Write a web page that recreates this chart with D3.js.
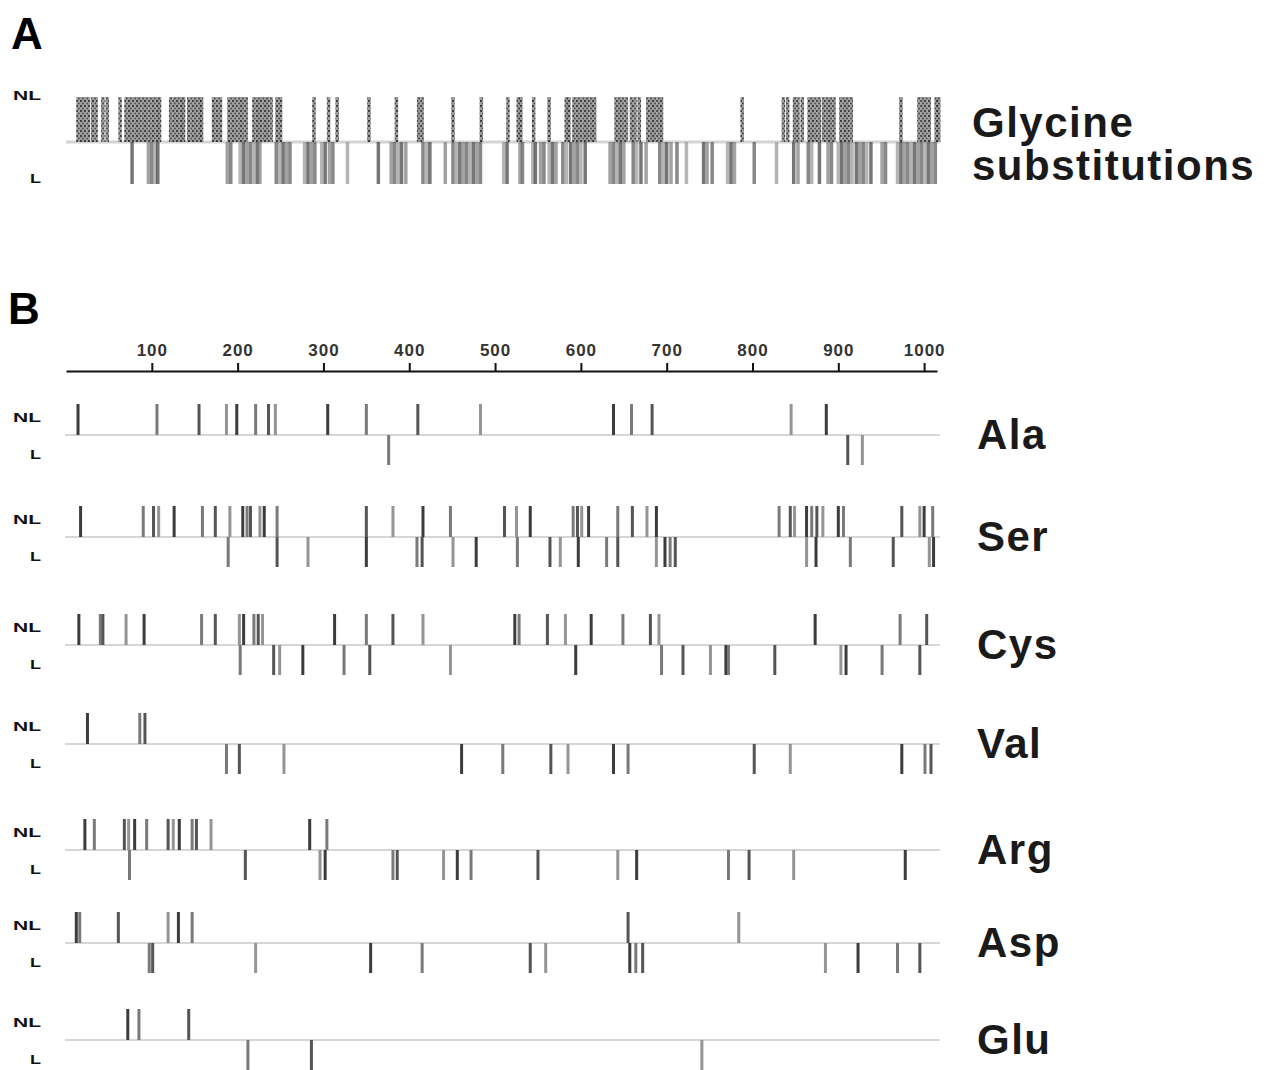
<!DOCTYPE html>
<html>
<head>
<meta charset="utf-8">
<script src="https://cdn.jsdelivr.net/npm/d3@7"></script>
<style>
  body { margin: 0; background: #fff; }
  text { font-family: "Liberation Sans", Arial, sans-serif; }
</style>
</head>
<body>
<div id="chart"></div>
<script>
// residue positions of substitutions along the triple helix
var ticks = [100, 200, 300, 400, 500, 600, 700, 800, 900, 1000]

var glyNL = [14, 18, 22, 26, 31, 35, 43, 48, 63, 70, 74, 78, 82, 86, 90, 94, 98, 102, 106, 109,
  122, 126, 130, 134, 137, 143, 147, 151, 155, 158, 172, 176, 180, 190, 194, 198, 202, 206, 210,
  219, 223, 227, 231, 235, 239, 246, 250, 289, 306, 316, 353, 385, 411, 415, 451, 484, 515, 527,
  530, 545, 563, 583, 586, 592, 596, 600, 604, 608, 612, 616, 641, 645, 649, 653, 659, 663, 668,
  678, 682, 686, 690, 694, 788, 836, 841, 849, 853, 858, 866, 870, 874, 878, 883, 887, 891, 895,
  903, 907, 911, 915, 973, 994, 998, 1002, 1006, 1014, 1017]
var glyL = [77, 96, 100, 104, 107, 188, 192, 203, 207, 211, 215, 219, 223, 226, 245, 249, 253, 257,
  261, 278, 282, 286, 290, 298, 302, 307, 311, 328, 364, 379, 383, 387, 391, 396, 416, 420, 424,
  442, 451, 455, 459, 463, 467, 471, 475, 479, 483, 510, 514, 529, 532, 544, 547, 553, 557, 563,
  567, 571, 579, 583, 588, 592, 596, 600, 605, 634, 638, 642, 646, 650, 661, 665, 670, 676, 692,
  696, 700, 705, 712, 723, 743, 747, 753, 771, 775, 779, 802, 828, 848, 853, 865, 869, 878, 888,
  892, 900, 904, 908, 912, 916, 921, 925, 929, 933, 938, 951, 955, 969, 973, 977, 981, 985, 989,
  993, 997, 1001, 1005, 1009, 1013]

var aminoAcids = ['Ala', 'Ser', 'Cys', 'Val', 'Arg', 'Asp', 'Glu']

var alaNL = [14, 106, 155, 187, 199, 221, 236, 244, 305, 350, 410, 483, 638, 659, 683, 845, 886]
var alaL = [376, 911, 928]

var serNL = [17, 90, 102, 108, 126, 159, 174, 191, 206, 211, 215, 226, 231, 246, 350, 381, 416, 448,
  511, 525, 541, 591, 596, 601, 609, 643, 660, 677, 688, 831, 844, 849, 863, 869, 875, 882, 900,
  906, 974, 995, 1000, 1010]
var serL = [189, 246, 282, 350, 409, 415, 451, 478, 526, 564, 576, 597, 630, 643, 688, 698, 704, 710,
  863, 874, 914, 964, 1006, 1011]

var cysNL = [15, 40, 43, 70, 91, 158, 174, 202, 207, 219, 224, 229, 313, 350, 381, 416, 523, 528, 561,
  582, 612, 649, 681, 691, 873, 972, 1003]
var cysL = [203, 242, 249, 276, 324, 354, 448, 594, 694, 719, 751, 769, 772, 826, 903, 909, 951, 995]

var valNL = [25, 86, 92]
var valL = [187, 202, 254, 461, 509, 565, 585, 638, 655, 802, 844, 974, 1001, 1008]

var argNL = [22, 33, 68, 73, 80, 94, 119, 125, 132, 147, 152, 169, 284, 304]
var argL = [74, 209, 296, 302, 381, 386, 440, 456, 472, 550, 643, 665, 772, 796, 848, 978]

var aspNL = [12, 16, 61, 119, 131, 147, 655, 784]
var aspL = [97, 101, 221, 355, 415, 541, 559, 657, 664, 672, 885, 923, 969, 995]

var gluNL = [72, 85, 143]
var gluL = [212, 286, 741]

var rows = [
  {name: 'Ala', nl: alaNL, l: alaL},
  {name: 'Ser', nl: serNL, l: serL},
  {name: 'Cys', nl: cysNL, l: cysL},
  {name: 'Val', nl: valNL, l: valL},
  {name: 'Arg', nl: argNL, l: argL},
  {name: 'Asp', nl: aspNL, l: aspL},
  {name: 'Glu', nl: gluNL, l: gluL}
]

var width = 1273, height = 1070

var svg = d3.select('#chart')
  .append('svg')
  .attr('width', width)
  .attr('height', height)

svg.append('rect').attr('width', width).attr('height', height).attr('fill', '#fff')

var x = d3.scaleLinear()
  .domain([0, 1015])
  .range([66, 937])

var y = d3.scaleOrdinal()
  .domain(aminoAcids)
  .range([435, 537, 645, 744, 850, 943, 1040])

var shade = d3.scaleOrdinal().range(['#3c3c3c', '#7a7a7a', '#555', '#959595'])

// dotted hatch for the NL glycine bars
var pat = svg.append('defs').append('pattern')
  .attr('id', 'hatch')
  .attr('width', 4)
  .attr('height', 5)
  .attr('patternUnits', 'userSpaceOnUse')
pat.append('rect').attr('width', 4).attr('height', 5).attr('fill', '#8c8c8c')
pat.append('circle').attr('cx', 1).attr('cy', 1).attr('r', 1.1).attr('fill', '#111')
pat.append('circle').attr('cx', 3).attr('cy', 3.5).attr('r', 1).attr('fill', '#2a2a2a')

function sideLabel(g, ty, txt) {
  var wide = txt == 'NL'
  g.append('text')
    .attr('x', wide ? 13 : 30)
    .attr('y', ty)
    .attr('font-size', 13)
    .attr('font-weight', 'bold')
    .attr('textLength', wide ? 28 : 11)
    .attr('lengthAdjust', 'spacingAndGlyphs')
    .attr('fill', '#111')
    .text(txt)
}

// ---- panel A
var gA = svg.append('g')
var aY = 142

svg.append('text').attr('x', 11).attr('y', 49)
  .attr('font-size', 44).attr('font-weight', 'bold').text('A')

gA.append('line')
  .attr('x1', x(0)).attr('x2', x(1015) + 3)
  .attr('y1', aY).attr('y2', aY)
  .attr('stroke', '#d4d4d4').attr('stroke-width', 3)

gA.selectAll('.gnl')
  .data(glyNL)
  .enter().append('rect')
  .attr('class', 'gnl')
  .attr('x', function(d) { return x(d) - 1.75 })
  .attr('y', aY - 45)
  .attr('width', 3.5)
  .attr('height', 45)
  .attr('fill', 'url(#hatch)')
  .attr('opacity', 0.85)

gA.selectAll('.gl')
  .data(glyL)
  .enter().append('rect')
  .attr('class', 'gl')
  .attr('x', function(d) { return x(d) - 1.75 })
  .attr('y', aY)
  .attr('width', 3.5)
  .attr('height', 42)
  .attr('fill', function(d, i) { return shade(i % 4) })
  .attr('opacity', 0.7)

sideLabel(gA, 100, 'NL')
sideLabel(gA, 183, 'L')

gA.append('text').attr('x', 972).attr('y', 137)
  .attr('font-size', 42).attr('font-weight', 'bold').attr('letter-spacing', 1.5)
  .attr('fill', '#1a1a1a').text('Glycine')
gA.append('text').attr('x', 972).attr('y', 180)
  .attr('font-size', 42).attr('font-weight', 'bold').attr('letter-spacing', 1.5)
  .attr('fill', '#1a1a1a').text('substitutions')

// ---- panel B
svg.append('text').attr('x', 8).attr('y', 324)
  .attr('font-size', 44).attr('font-weight', 'bold').text('B')

var axis = svg.append('g')
  .attr('transform', 'translate(0,371)')
  .call(d3.axisTop(x).tickValues(ticks).tickFormat(d3.format('d'))
    .tickSize(8).tickSizeOuter(0).tickPadding(7))
axis.select('.domain').attr('stroke', '#111').attr('stroke-width', 2)
axis.selectAll('.tick line').attr('stroke', '#111').attr('stroke-width', 2)
axis.selectAll('.tick text')
  .attr('font-size', 17)
  .attr('font-weight', 'bold')
  .attr('letter-spacing', 1)
  .attr('fill', '#333')
  .style('font-family', '"Liberation Sans", Arial, sans-serif')

var row = svg.selectAll('.row')
  .data(rows)
  .enter().append('g')
  .attr('class', 'row')
  .attr('transform', function(d) { return 'translate(0,' + y(d.name) + ')' })

row.append('line')
  .attr('x1', x(0) - 1).attr('x2', x(1015) + 3)
  .attr('y1', 0).attr('y2', 0)
  .attr('stroke', '#d6d6d6').attr('stroke-width', 2)

row.selectAll('.nl')
  .data(function(d) { return d.nl })
  .enter().append('rect')
  .attr('class', 'nl')
  .attr('x', function(d) { return x(d) - 1.5 })
  .attr('y', -31)
  .attr('width', 3)
  .attr('height', 31)
  .attr('fill', function(d, i) { return shade(i % 4) })

row.selectAll('.l')
  .data(function(d) { return d.l })
  .enter().append('rect')
  .attr('class', 'l')
  .attr('x', function(d) { return x(d) - 1.5 })
  .attr('y', 0)
  .attr('width', 3)
  .attr('height', 30)
  .attr('fill', function(d, i) { return shade((i + 1) % 4) })

row.each(function() {
  sideLabel(d3.select(this), -13, 'NL')
  sideLabel(d3.select(this), 24, 'L')
})

row.append('text')
  .attr('x', 977)
  .attr('y', 14)
  .attr('font-size', 42)
  .attr('font-weight', 'bold')
  .attr('letter-spacing', 1.5)
  .attr('fill', '#1a1a1a')
  .text(function(d) { return d.name })
</script>
</body>
</html>
